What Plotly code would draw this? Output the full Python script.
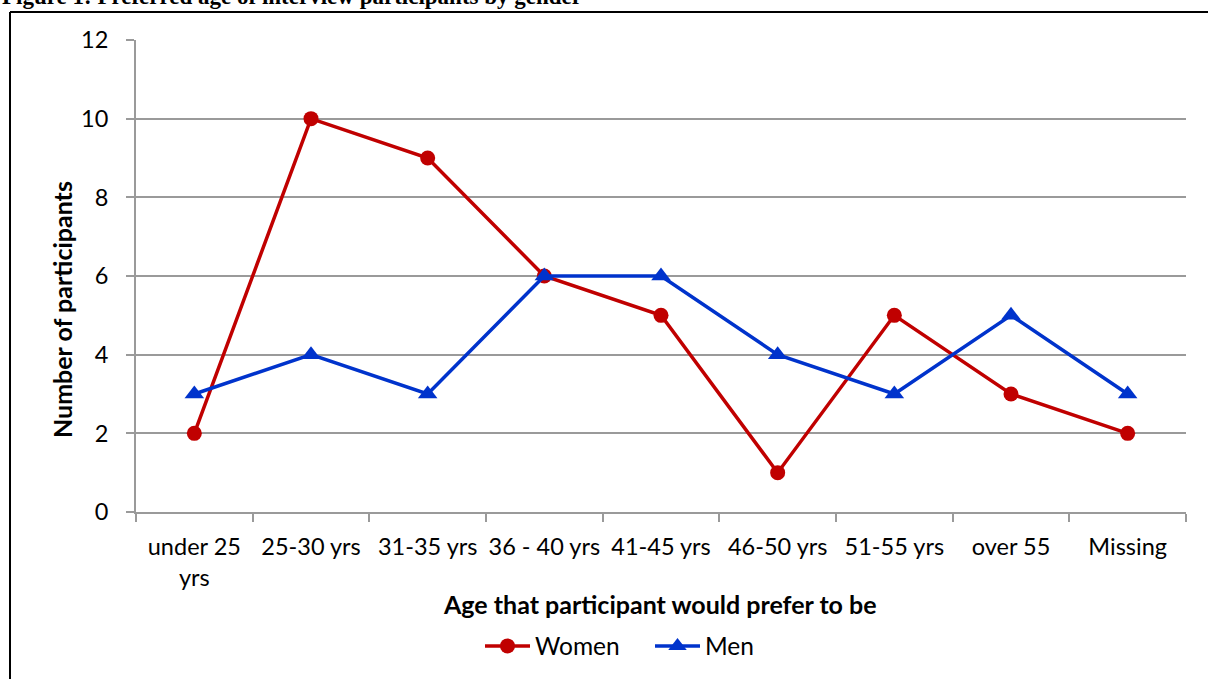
import plotly.graph_objects as go

categories = ["under 25<br>yrs", "25-30 yrs", "31-35 yrs", "36 - 40 yrs", "41-45 yrs",
              "46-50 yrs", "51-55 yrs", "over 55", "Missing"]
women = [2, 10, 9, 6, 5, 1, 5, 3, 2]
men = [3, 4, 3, 6, 6, 4, 3, 5, 3]
y_ticks = [0, 2, 4, 6, 8, 10, 12]

W, H = 1208, 679
FONT = "Lato"
GRID = "#9a9a9a"

def px_x(x):
    return x / W

def px_y(y):
    return (H - y) / H

fig = go.Figure()
fig.add_trace(go.Scatter(
    x=categories, y=women, name="Women", mode="lines+markers",
    line=dict(color="#C00000", width=3.5),
    marker=dict(symbol="circle", size=15, color="#C00000"),
))
fig.add_trace(go.Scatter(
    x=categories, y=men, name="Men", mode="lines+markers",
    line=dict(color="#0033CC", width=3.5),
    marker=dict(symbol="triangle-up", size=17, color="#0033CC"),
))

fig.update_layout(
    template="none",
    width=W, height=H,
    margin=dict(l=0, r=0, t=0, b=0, pad=0, autoexpand=False),
    paper_bgcolor="white", plot_bgcolor="white",
    font=dict(family=FONT, size=23, color="black"),
    showlegend=True,
    legend=dict(orientation="h", x=px_x(480), xanchor="left",
                y=px_y(646), yanchor="middle",
                font=dict(family=FONT, size=24.5, color="black"),
                itemwidth=45, entrywidth=110, entrywidthmode="pixels",
                tracegroupgap=0, bgcolor="rgba(0,0,0,0)"),
    xaxis=dict(
        domain=[px_x(136), px_x(1186)],
        type="category", range=[-0.5, 8.5], automargin=False,
        showline=True, linecolor=GRID, linewidth=2,
        ticks="outside", tickson="boundaries", ticklen=8, tickcolor=GRID, tickwidth=2,
        showgrid=False, zeroline=False, tickangle=0,
        ticklabelstandoff=13,
        tickfont=dict(family=FONT, size=23.5, color="black"),
    ),
    yaxis=dict(
        domain=[px_y(512), px_y(40)],
        range=[0, 12], tickvals=y_ticks, automargin=False,
        showline=True, linecolor=GRID, linewidth=2,
        ticks="outside", ticklen=8, tickcolor=GRID, tickwidth=2,
        showgrid=True, gridcolor=GRID, gridwidth=2, zeroline=False,
        ticklabelstandoff=13,
        tickfont=dict(family=FONT, size=23.5, color="black"),
    ),
    annotations=[
        dict(text="<b>Age that participant would prefer to be</b>", xref="paper", yref="paper",
             x=px_x(660), y=px_y(604), xanchor="center", yanchor="middle", showarrow=False,
             font=dict(family=FONT, size=25, color="black")),
        dict(text="<b>Number of participants</b>", xref="paper", yref="paper",
             x=px_x(62), y=px_y(310), xanchor="center", yanchor="middle", showarrow=False,
             textangle=-90, font=dict(family=FONT, size=25, color="black")),
        dict(text="<b>Figure 1: Preferred age of interview participants by gender</b>",
             xref="paper", yref="paper", x=0, y=px_y(11), xanchor="left", yanchor="bottom",
             showarrow=False, font=dict(family="Liberation Serif", size=23, color="black")),
    ],
    shapes=[
        dict(type="line", xref="paper", yref="paper", x0=px_x(10), x1=1.0,
             y0=px_y(12), y1=px_y(12), line=dict(color="black", width=2)),
        dict(type="line", xref="paper", yref="paper", x0=px_x(10), x1=px_x(10),
             y0=px_y(12), y1=0, line=dict(color="black", width=2)),
    ],
)

fig.write_html("out.html", config={"displayModeBar": False},
               post_script="document.body.style.margin='0';")
